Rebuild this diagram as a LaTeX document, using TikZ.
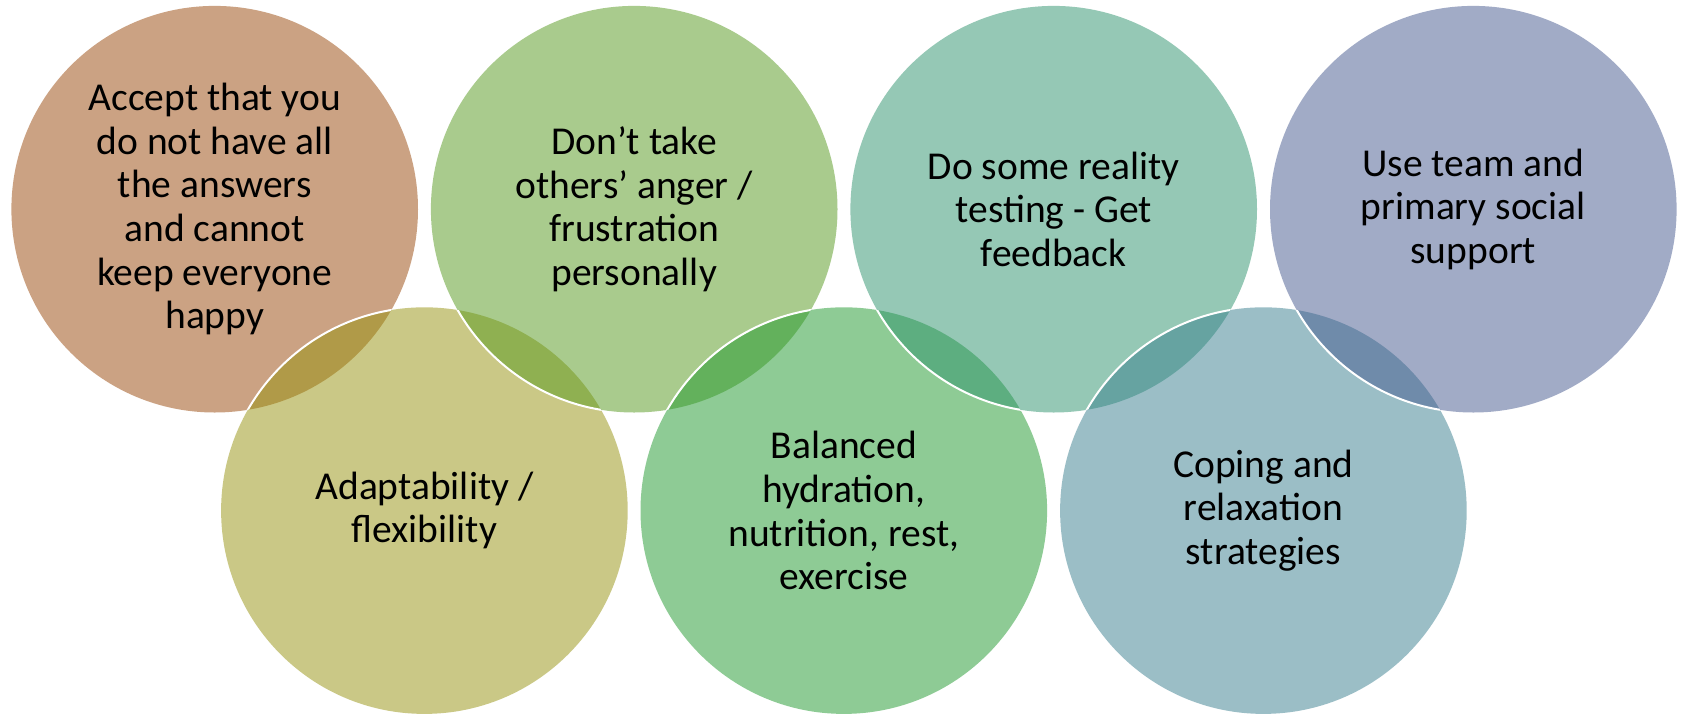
\documentclass[tikz,border=0pt]{standalone}
\usepackage{fontspec}
\setmainfont{Carlito}
\definecolor{cA}{RGB}{153,71,9}
\definecolor{cE}{RGB}{151,147,15}
\definecolor{cB}{RGB}{85,153,29}
\definecolor{cF}{RGB}{31,153,45}
\definecolor{cC}{RGB}{45,147,109}
\definecolor{cG}{RGB}{57,127,143}
\definecolor{cD}{RGB}{69,89,143}
\begin{document}
\begin{tikzpicture}[x=1pt,y=-1pt,
  bubble/.style={circle, minimum size=406.6pt, inner sep=0pt, fill opacity=0.5, draw=none},
  rim/.style={white, line width=2pt},
  lbl/.style={align=center, font=\fontsize{39.5}{43.7}\selectfont, text=black, inner sep=0pt}]
\useasboundingbox (0,0) rectangle (1681,713);
\fill[white] (0,0) rectangle (1681,713);
% zig-zag drawing order
\node[bubble, fill=cA] (c1) at (214.7,209.2) {};
\node[bubble, fill=cE] (c5) at (424.4,510.6) {};
\begin{scope}\clip (c1.center) circle (203.3pt); \draw[rim] (c5.center) circle (203.3pt);\end{scope}
\node[bubble, fill=cB] (c2) at (634.2,209.2) {};
\begin{scope}\clip (c5.center) circle (203.3pt); \draw[rim] (c2.center) circle (203.3pt);\end{scope}
\node[bubble, fill=cF] (c6) at (843.8,510.6) {};
\begin{scope}\clip (c2.center) circle (203.3pt); \draw[rim] (c6.center) circle (203.3pt);\end{scope}
\node[bubble, fill=cC] (c3) at (1053.7,209.2) {};
\begin{scope}\clip (c6.center) circle (203.3pt); \draw[rim] (c3.center) circle (203.3pt);\end{scope}
\node[bubble, fill=cG] (c7) at (1263.4,510.6) {};
\begin{scope}\clip (c3.center) circle (203.3pt); \draw[rim] (c7.center) circle (203.3pt);\end{scope}
\node[bubble, fill=cD] (c4) at (1473.3,209.2) {};
\begin{scope}\clip (c7.center) circle (203.3pt); \draw[rim] (c4.center) circle (203.3pt);\end{scope}
% texts
\node[lbl] (t1) at (c1) {Accept that you\\do not have all\\the answers\\and cannot\\keep everyone\\happy};
\node[lbl] (t2) at (c2) {Don’t take\\others’ anger /\\frustration\\personally};
\node[lbl] (t3) at (c3) {Do some reality\\testing - Get\\feedback};
\node[lbl] (t4) at (c4) {Use team and\\primary social\\support};
\node[lbl] (t5) at (c5) {Adaptability /\\flexibility};
\node[lbl] (t6) at (c6) {Balanced\\hydration,\\nutrition, rest,\\exercise};
\node[lbl] (t7) at (c7) {Coping and\\relaxation\\strategies};
\end{tikzpicture}
\end{document}
